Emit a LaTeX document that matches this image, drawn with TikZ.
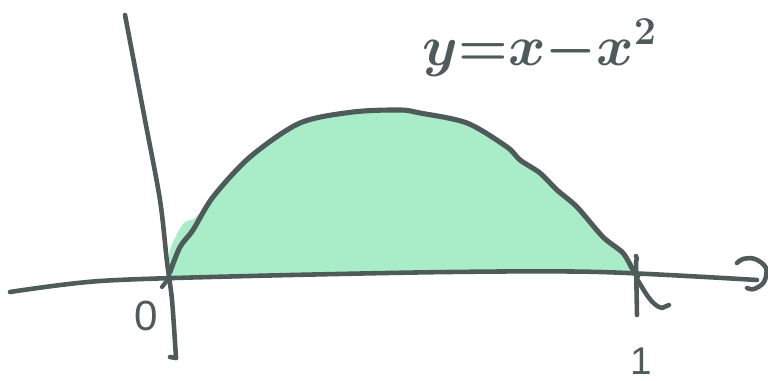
\documentclass[tikz,border=0pt]{standalone}
\usepackage{fontspec}
\setmainfont{Liberation Sans}
\definecolor{ink}{HTML}{4F5B5B}
\definecolor{area}{HTML}{A8EDC8}
\begin{document}
\begin{tikzpicture}[x=0.02cm,y=-0.02cm,
  pen/.style={draw=ink,line width=2.9pt,line cap=round,line join=round},
  lbl/.style={text=ink,inner sep=0pt}]
\useasboundingbox (0,0) rectangle (768,381);
% green area
\fill[area] plot[smooth,tension=0.5] coordinates {(168,274) (170,250) (183,224) (195,218) (213,199) (250,159) (300,125) (353,114) (400,112) (420,115) (467,125) (507,149) (520,162) (540,175) (557,192) (577,209) (603,239) (623,255) (633,271)}
  -- (400,271) -- (168,276) -- cycle;
% curve
\draw[pen] plot[smooth,tension=0.5] coordinates {(170,272) (180,247) (193,230) (213,197) (250,157) (300,123) (353,112) (400,110) (420,113) (467,123) (507,147) (520,160) (540,173) (557,190) (577,207) (603,237) (623,253) (633,270) (638,276)};
% x axis
\draw[pen,line width=2.6pt] plot[smooth,tension=0.5] coordinates {(10,292) (100,281) (250,276) (450,272) (600,272) (757,280)};
% arrow hook
\draw[pen,line width=2.6pt] plot[smooth,tension=0.6] coordinates {(737,263) (743,259) (755,259) (766,268) (764,282) (754,289) (747,288)};
% y axis
\draw[pen,line width=2.6pt] plot[smooth,tension=0.5] coordinates {(125,15) (145,120) (160,200) (167,262) (172,300) (176,358)};
\draw[pen,line width=2.6pt] (176,358) -- (170,357);
% origin tick
\draw[pen,line width=2.4pt] (162,287) -- (170,277);
% tick at 1
\draw[pen,line width=2.6pt] (636,256) .. controls (637,258) .. (636,262) -- (637,315);
\draw[pen,line width=2.6pt] (637,279) .. controls (645,292) and (652,306) .. (662,308) -- (669,305);
% labels
\node[lbl,font=\fontsize{24}{26}\selectfont] (zero) at (146,316) {0};
\node[lbl,font=\fontsize{22}{24}\selectfont] (one) at (641,361) {1};
\node[lbl,font=\fontsize{24}{26}\selectfont\mathversion{bold},scale=1.3] (eq) at (540,48) {$y{=}x{-}x^2$};
\end{tikzpicture}
\end{document}
